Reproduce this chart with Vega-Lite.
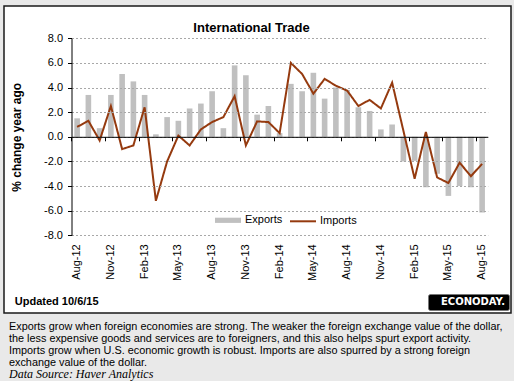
{
  "$schema": "https://vega.github.io/schema/vega-lite/v6.json",
  "background": "#e9e9e9",
  "padding": {"left": 3, "top": 5, "right": 4, "bottom": 0},
  "spacing": 0,
  "bounds": "flush",
  "config": {
    "view": {"stroke": null},
    "locale": {"number": {"decimal": ".", "thousands": ",", "grouping": [3], "currency": ["$", ""], "minus": "-"}},
    "axis": {"labelFont": "Liberation Sans", "titleFont": "Liberation Sans", "labelColor": "#000", "titleColor": "#000"},
    "legend": {"labelFont": "Liberation Sans", "labelColor": "#000"},
    "title": {"font": "Liberation Sans", "color": "#000"}
  },
  "vconcat": [
    {
      "width": 507,
      "height": 307,
      "view": {"fill": "#ffffff", "stroke": "#1a1a1a", "strokeWidth": 1.5},
      "title": {"text": "International Trade", "fontSize": 13, "fontWeight": "bold", "anchor": "middle", "frame": "group", "baseline": "top", "offset": -29, "dx": -6},
      "data": {"values": [
        {"m": "Aug-12", "exp": 1.5, "imp": 0.8},
        {"m": "Sep-12", "exp": 3.4, "imp": 1.3},
        {"m": "Oct-12", "exp": 0.7, "imp": -0.3},
        {"m": "Nov-12", "exp": 3.4, "imp": 2.5},
        {"m": "Dec-12", "exp": 5.1, "imp": -1.0},
        {"m": "Jan-13", "exp": 4.5, "imp": -0.7},
        {"m": "Feb-13", "exp": 3.4, "imp": 2.4},
        {"m": "Mar-13", "exp": 0.2, "imp": -5.2},
        {"m": "Apr-13", "exp": 1.6, "imp": -2.0},
        {"m": "May-13", "exp": 1.3, "imp": 0.1},
        {"m": "Jun-13", "exp": 2.3, "imp": -0.7},
        {"m": "Jul-13", "exp": 2.7, "imp": 0.6},
        {"m": "Aug-13", "exp": 3.7, "imp": 1.2},
        {"m": "Sep-13", "exp": 0.7, "imp": 1.6},
        {"m": "Oct-13", "exp": 5.8, "imp": 3.3},
        {"m": "Nov-13", "exp": 5.0, "imp": -0.7},
        {"m": "Dec-13", "exp": 1.8, "imp": 1.25},
        {"m": "Jan-14", "exp": 2.5, "imp": 1.2},
        {"m": "Feb-14", "exp": 0.3, "imp": 0.3},
        {"m": "Mar-14", "exp": 4.3, "imp": 6.0},
        {"m": "Apr-14", "exp": 3.7, "imp": 5.1},
        {"m": "May-14", "exp": 5.2, "imp": 3.5},
        {"m": "Jun-14", "exp": 3.1, "imp": 4.7},
        {"m": "Jul-14", "exp": 4.0, "imp": 4.15},
        {"m": "Aug-14", "exp": 3.8, "imp": 3.75},
        {"m": "Sep-14", "exp": 2.4, "imp": 2.5},
        {"m": "Oct-14", "exp": 2.1, "imp": 3.0},
        {"m": "Nov-14", "exp": 0.6, "imp": 2.3},
        {"m": "Dec-14", "exp": 1.0, "imp": 4.4},
        {"m": "Jan-15", "exp": -2.0, "imp": 0.5},
        {"m": "Feb-15", "exp": -1.95, "imp": -3.4},
        {"m": "Mar-15", "exp": -4.1, "imp": 0.4},
        {"m": "Apr-15", "exp": -3.0, "imp": -3.3},
        {"m": "May-15", "exp": -4.8, "imp": -3.75},
        {"m": "Jun-15", "exp": -4.0, "imp": -2.1},
        {"m": "Jul-15", "exp": -4.1, "imp": -3.2},
        {"m": "Aug-15", "exp": -6.15, "imp": -2.2}
      ]},
      "layer": [
        {
          "mark": {"type": "bar"},
          "encoding": {
            "x": {
              "field": "m", "type": "ordinal", "sort": null,
              "scale": {"range": [67.5, 483.75], "paddingInner": 0.5, "paddingOuter": 0.25},
              "axis": {
                "orient": "bottom", "offset": -77.7,
                "values": ["Aug-12", "Nov-12", "Feb-13", "May-13", "Aug-13", "Nov-13", "Feb-14", "May-14", "Aug-14", "Nov-14", "Feb-15", "May-15", "Aug-15"],
                "labelAngle": -90, "labelFontSize": 11, "labelPadding": 8.5,
                "ticks": false, "tickSize": 0, "domain": false, "grid": false,
                "title": "Updated  10/6/15", "titleFontSize": 11, "titleFontWeight": "bold",
                "titleX": 10.3, "titleY": 69, "titleAlign": "left", "titleBaseline": "alphabetic", "titleAngle": 0
              }
            },
            "y": {
              "field": "exp", "type": "quantitative",
              "scale": {"domain": [-8, 8], "range": [229.3, 32.3], "nice": false},
              "axis": {
                "title": "% change year ago", "values": [-8, -6, -4, -2, 0, 2, 4, 6, 8], "format": ".1f",
                "offset": -67.5, "labelFontSize": 11, "labelPadding": 5, "tickSize": 4,
                "tickColor": "#000", "domainColor": "#000", "domainWidth": 1,
                "grid": true, "gridColor": "#a8a8a8", "gridDash": [2, 2], "gridWidth": 1,
                "titleFontSize": 12, "titleFontWeight": "bold", "titlePadding": 20, "zindex": 1
              }
            },
            "fill": {
              "datum": "Exports", "scale": {"range": ["#c0c0c0"]},
              "legend": {"orient": "none", "legendX": 211, "legendY": 201.3, "title": null, "padding": 0,
                "symbolType": "M-1,-0.2H1V0.2H-1Z", "symbolSize": 676, "symbolStrokeWidth": 0,
                "labelFontSize": 11, "labelOffset": 4}
            }
          }
        },
        {
          "mark": {"type": "line", "strokeWidth": 2},
          "encoding": {
            "x": {
              "field": "m", "type": "ordinal", "sort": null,
              "axis": {
                "orient": "bottom", "offset": -176.2,
                "values": ["Aug-12", "Nov-12", "Feb-13", "May-13", "Aug-13", "Nov-13", "Feb-14", "May-14", "Aug-14", "Nov-14", "Feb-15", "May-15", "Aug-15"],
                "labels": false, "ticks": true, "tickSize": 4, "tickColor": "#000",
                "domain": true, "domainColor": "#000", "domainWidth": 1,
                "bandPosition": -0.5, "title": null, "grid": false, "zindex": 1
              }
            },
            "y": {
              "field": "imp", "type": "quantitative",
              "axis": {
                "title": "% change year ago", "values": [-8, -6, -4, -2, 0, 2, 4, 6, 8], "format": ".1f",
                "offset": -67.5, "labelFontSize": 11, "labelPadding": 5, "tickSize": 4,
                "tickColor": "#000", "domainColor": "#000", "domainWidth": 1,
                "grid": true, "gridColor": "#a8a8a8", "gridDash": [2, 2], "gridWidth": 1,
                "titleFontSize": 12, "titleFontWeight": "bold", "titlePadding": 20, "zindex": 1
              }
            },
            "stroke": {
              "datum": "Imports", "scale": {"range": ["#953a0f"]},
              "legend": {"orient": "none", "legendX": 285, "legendY": 201.3, "title": null, "padding": 0,
                "symbolType": "stroke", "symbolSize": 676, "symbolStrokeWidth": 2,
                "labelFontSize": 11, "labelOffset": 3}
            },
            "strokeDash": {
              "datum": "ECONODAY.", "scale": {"range": [[1, 0]]},
              "legend": {"orient": "none", "legendX": 424, "legendY": 288, "title": null,
                "fillColor": "#000", "strokeColor": "#777", "cornerRadius": 2, "padding": 3,
                "symbolSize": 0, "symbolOpacity": 0, "symbolStrokeWidth": 0, "labelOffset": 0,
                "labelColor": "#fff", "labelFont": "DejaVu Sans", "labelFontWeight": "bold", "labelFontSize": 10}
            }
          }
        }
      ],
      "resolve": {"axis": {"x": "independent"}}
    },
    {
      "width": 507,
      "height": 69,
      "title": {
        "text": [
          "Exports grow when foreign economies are strong. The weaker the foreign exchange value of the dollar,",
          "the less expensive goods and services are to foreigners, and this also helps spurt export activity.",
          "Imports grow when U.S. economic growth is robust. Imports are also spurred by a strong foreign",
          "exchange value of the dollar."
        ],
        "anchor": "start", "frame": "group", "baseline": "top", "fontSize": 10.85, "fontWeight": "normal",
        "lineHeight": 12, "offset": -67, "dx": 5,
        "subtitle": "Data Source: Haver Analytics", "subtitleFont": "Liberation Serif", "subtitleFontStyle": "italic",
        "subtitleFontSize": 12, "subtitleColor": "#000", "subtitlePadding": 1
      },
      "data": {"values": []},
      "mark": "text",
      "encoding": {}
    }
  ]
}
